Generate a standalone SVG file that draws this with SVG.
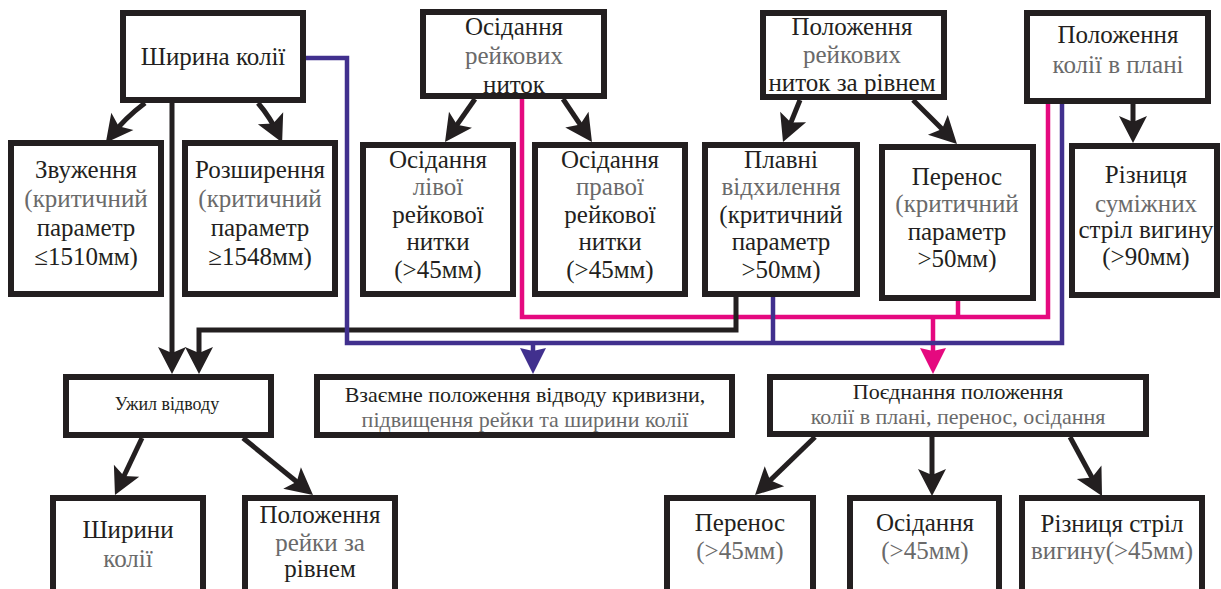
<svg xmlns="http://www.w3.org/2000/svg" width="1221" height="589" viewBox="0 0 1221 589">
<style>
.box{fill:#fff;stroke:#231f20;stroke-width:6}
text{font-family:"Liberation Serif",Tinos,"Times New Roman",Times,"DejaVu Serif","Noto Serif",FreeSerif,serif;font-size:25px;fill:#231f20;text-anchor:middle}
.g{fill:#6a6a6a}
.s{font-size:18px}
.m{font-size:22px}
.k{fill:none;stroke:#231f20;stroke-width:5}
.pu{fill:none;stroke:#41308e;stroke-width:4.5}
.pk{fill:none;stroke:#e5097f;stroke-width:4.5}
</style>
<defs>
<marker id="ak" markerUnits="userSpaceOnUse" viewBox="-20 -15 30 30" markerWidth="30" markerHeight="30" refX="0" refY="0" orient="auto" overflow="visible">
<path d="M8,0 L-19,-14 L-13,0 L-19,14 Z" fill="#231f20"/>
</marker>
<marker id="apu" markerUnits="userSpaceOnUse" viewBox="-20 -15 30 30" markerWidth="30" markerHeight="30" refX="0" refY="0" orient="auto" overflow="visible">
<path d="M8,0 L-18,-13 L-15,0 L-18,13 Z" fill="#41308e"/>
</marker>
<marker id="apk" markerUnits="userSpaceOnUse" viewBox="-20 -15 30 30" markerWidth="30" markerHeight="30" refX="0" refY="0" orient="auto" overflow="visible">
<path d="M8,0 L-18,-13 L-15,0 L-18,13 Z" fill="#e5097f"/>
</marker>
</defs>
<g id="connectors">
<path class="pk" d="M522,99 V317 H1048 V104"/>
<path class="pk" d="M958,300 V317"/>
<path class="pk" d="M933,317 V366" marker-end="url(#apk)"/>
<path class="k" d="M736,297 V330 H199 V366" marker-end="url(#ak)"/>
<path class="pu" d="M306,58 H347 V343 H1062 V104"/>
<path class="pu" d="M773,297 V343"/>
<path class="pu" d="M533,343 V366" marker-end="url(#apu)"/>
<path class="k" d="M145,103 Q125,118 110.7,136.4" marker-end="url(#ak)"/>
<path class="k" d="M258,103 Q270,117 278.7,135.3" marker-end="url(#ak)"/>
<path class="k" d="M172,103 V366" marker-end="url(#ak)"/>
<path class="k" d="M475,99 L449.6,135.4" marker-end="url(#ak)"/>
<path class="k" d="M563,99 L587.5,135.4" marker-end="url(#ak)"/>
<path class="k" d="M800,100 L786,134.6" marker-end="url(#ak)"/>
<path class="k" d="M913,100 L951.3,138.3" marker-end="url(#ak)"/>
<path class="k" d="M1133,104 V135" marker-end="url(#ak)"/>
<path class="k" d="M142,438 L118.4,487.8" marker-end="url(#ak)"/>
<path class="k" d="M243,438 L306.8,490" marker-end="url(#ak)"/>
<path class="k" d="M815,437 L760.8,489.4" marker-end="url(#ak)"/>
<path class="k" d="M932,437 V488" marker-end="url(#ak)"/>
<path class="k" d="M1070,437 L1098.2,489" marker-end="url(#ak)"/>
</g>
<g id="n1"><rect class="box" x="123" y="13" width="180" height="87"/><text x="213" y="65">Ширина колії</text></g>
<g id="n2"><rect class="box" x="423" y="12" width="181" height="84"/><text x="514" y="35">Осідання</text><text class="g" x="514" y="64">рейкових</text><text x="514" y="93">ниток</text></g>
<g id="n3"><rect class="box" x="763" y="13" width="181" height="84"/><text x="852" y="35">Положення</text><text class="g" x="852" y="63">рейкових</text><text x="852" y="91">ниток за рівнем</text></g>
<g id="n4"><rect class="box" x="1027" y="13" width="181" height="88"/><text x="1118" y="43">Положення</text><text class="g" x="1118" y="73">колії в плані</text></g>
<g id="n5"><rect class="box" x="11" y="143" width="150" height="151"/><text x="86" y="178">Звуження</text><text class="g" x="86" y="207">(критичний</text><text x="86" y="236">параметр</text><text x="86" y="265">≤1510мм)</text></g>
<g id="n6"><rect class="box" x="185" y="143" width="150" height="151"/><text x="260" y="178">Розширення</text><text class="g" x="260" y="207">(критичний</text><text x="260" y="236">параметр</text><text x="260" y="265">≥1548мм)</text></g>
<g id="n7"><rect class="box" x="363" y="145" width="150" height="149"/><text x="438" y="168">Осідання</text><text class="g" x="438" y="195">лівої</text><text x="438" y="223">рейкової</text><text x="438" y="250">нитки</text><text x="438" y="278">(&gt;45мм)</text></g>
<g id="n8"><rect class="box" x="535" y="145" width="150" height="149"/><text x="610" y="168">Осідання</text><text class="g" x="610" y="195">правої</text><text x="610" y="223">рейкової</text><text x="610" y="250">нитки</text><text x="610" y="278">(&gt;45мм)</text></g>
<g id="n9"><rect class="box" x="705" y="145" width="152" height="149"/><text x="781" y="168">Плавні</text><text class="g" x="781" y="195">відхилення</text><text x="781" y="223">(критичний</text><text x="781" y="250">параметр</text><text x="781" y="278">&gt;50мм)</text></g>
<g id="n10"><rect class="box" x="882" y="147" width="151" height="151"/><text x="957" y="185">Перенос</text><text class="g" x="957" y="212">(критичний</text><text x="957" y="240">параметр</text><text x="957" y="267">&gt;50мм)</text></g>
<g id="n11"><rect class="box" x="1072" y="146" width="145" height="149"/><text x="1146" y="183">Різниця</text><text class="g" x="1146" y="212">суміжних</text><text x="1146" y="238">стріл вигину</text><text x="1146" y="265">(&gt;90мм)</text></g>
<g id="n12"><rect class="box" x="66" y="377" width="205" height="58"/><text class="s" x="167" y="410">Ужил відводу</text></g>
<g id="n13"><rect class="box" x="317" y="377" width="415" height="58"/><text class="m" x="525" y="402">Взаємне положення відводу кривизни,</text><text class="m g" x="525" y="427">підвищення рейки  та ширини колії</text></g>
<g id="n14"><rect class="box" x="770" y="377" width="376" height="57"/><text class="m" x="958" y="399">Поєднання положення</text><text class="m g" x="958" y="424">колії в плані, перенос, осідання</text></g>
<g id="n15"><rect class="box" x="53" y="498" width="150" height="100"/><text x="128" y="538">Ширини</text><text class="g" x="128" y="567">колії</text></g>
<g id="n16"><rect class="box" x="245" y="498" width="150" height="100"/><text x="320" y="523">Положення</text><text class="g" x="320" y="551">рейки за</text><text x="320" y="577">рівнем</text></g>
<g id="n17"><rect class="box" x="667" y="498" width="146" height="100"/><text x="740" y="531">Перенос</text><text class="g" x="740" y="559">(&gt;45мм)</text></g>
<g id="n18"><rect class="box" x="850" y="498" width="149" height="100"/><text x="925" y="531">Осідання</text><text class="g" x="925" y="559">(&gt;45мм)</text></g>
<g id="n19"><rect class="box" x="1022" y="498" width="180" height="100"/><text x="1112" y="532">Різниця стріл</text><text class="g" x="1112" y="559">вигину(&gt;45мм)</text></g>
</svg>
